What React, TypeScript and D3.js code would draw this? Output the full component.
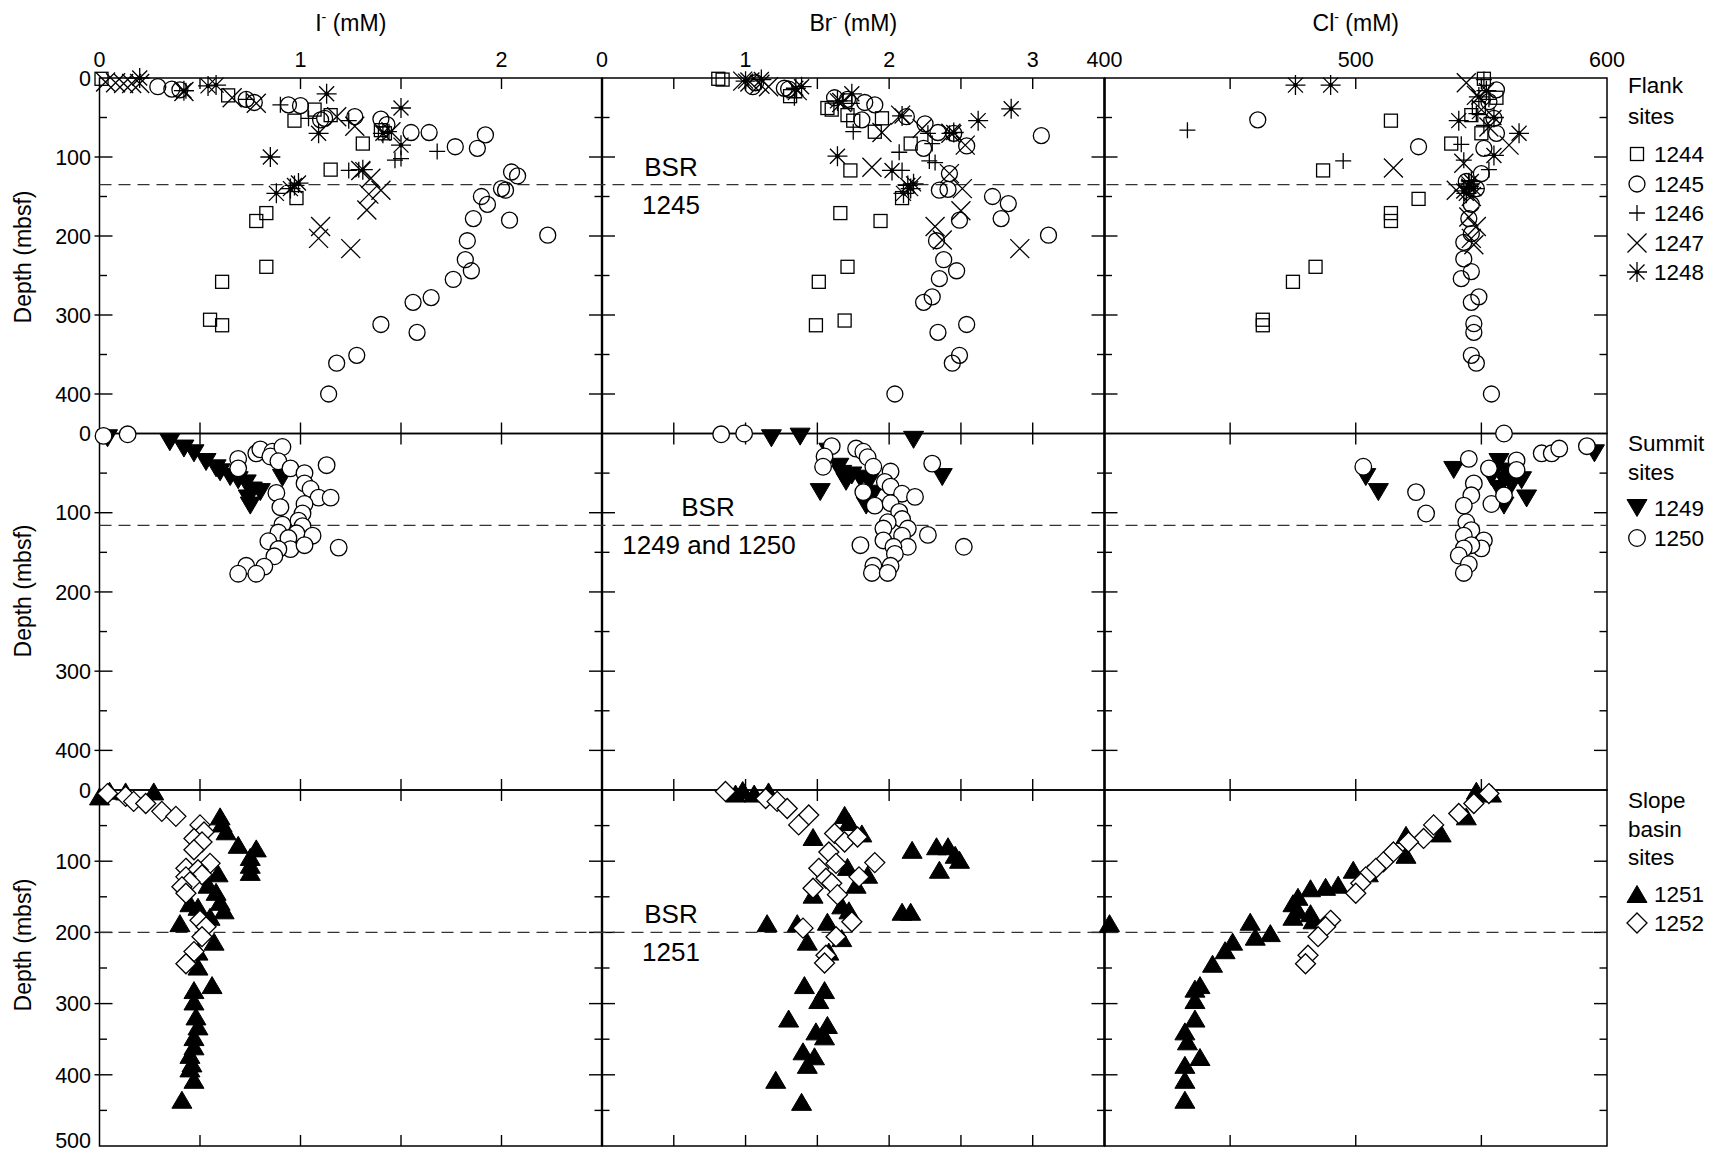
import React from "react";
import * as d3 from "d3";

type Pt = [number, number];

// ---- Flank sites (row 1): [value, depth mbsf] ----
const i1244: Pt[] = [[0.01,1],[0.64,22],[1.07,40],[0.97,54],[1.15,47],[1.40,66],[1.42,70],[1.31,83],[1.15,116],[0.98,152],[0.83,171],[0.78,181],[0.83,239],[0.61,258],[0.55,306],[0.61,313]];
const i1245: Pt[] = [[0.29,11],[0.36,14],[0.40,15],[0.73,27],[0.77,31],[0.94,34],[1.00,35],[1.10,53],[1.12,51],[1.27,49],[1.40,52],[1.43,59],[1.55,69],[1.64,69],[1.77,87],[1.88,89],[1.92,72],[2.05,119],[2.08,124],[2.00,140],[2.02,142],[1.90,150],[1.93,160],[1.86,178],[2.04,180],[2.23,199],[1.83,206],[1.82,230],[1.85,244],[1.76,255],[1.65,278],[1.56,284],[1.40,312],[1.58,322],[1.28,351],[1.18,361],[1.14,400]];
const i1246: Pt[] = [[0.43,16],[0.73,27],[0.90,34],[1.04,51],[1.24,54],[1.44,68],[1.68,93],[1.47,104],[1.50,102],[1.24,117],[1.29,116]];
const i1247: Pt[] = [[0.03,5],[0.08,6],[0.12,7],[0.16,7],[0.20,7],[0.42,17],[0.66,25],[0.78,32],[1.18,49],[1.27,61],[1.45,68],[1.30,117],[1.35,127],[1.40,142],[1.34,147],[1.33,167],[1.10,188],[1.09,203],[1.25,216]];
const i1248: Pt[] = [[0.20,0],[0.42,16],[0.54,10],[0.58,9],[1.13,20],[1.09,70],[1.50,38],[1.41,70],[1.50,85],[0.85,100],[0.88,146],[0.95,140],[0.97,136],[0.99,133],[1.31,116]];

const br1244: Pt[] = [[0.81,1],[0.84,2],[1.31,23],[1.57,38],[1.60,40],[1.71,47],[1.75,54],[1.90,68],[1.95,51],[2.15,83],[1.73,117],[2.09,152],[1.66,171],[1.94,181],[1.71,239],[1.51,258],[1.49,313],[1.69,307]];
const br1245: Pt[] = [[1.05,11],[1.07,6],[1.27,13],[1.30,14],[1.62,25],[1.71,27],[1.83,31],[1.90,34],[1.81,53],[2.12,49],[2.25,58],[2.34,69],[2.45,70],[2.54,86],[2.24,89],[3.06,73],[2.42,121],[2.41,141],[2.35,142],[2.72,150],[2.83,159],[2.78,178],[2.49,180],[3.11,199],[2.33,206],[2.38,230],[2.47,244],[2.35,254],[2.30,277],[2.24,284],[2.54,312],[2.34,322],[2.49,351],[2.44,361],[2.04,400]];
const br1246: Pt[] = [[1.34,25],[1.68,29],[1.74,32],[1.75,68],[2.07,94],[2.28,105],[2.32,107],[2.09,117],[2.27,70],[2.30,83],[2.42,70]];
const br1247: Pt[] = [[0.98,4],[1.03,5],[1.10,8],[1.16,11],[1.36,16],[1.67,31],[1.95,69],[2.08,47],[2.23,64],[2.43,70],[2.53,85],[1.88,113],[2.42,121],[2.51,140],[2.50,168],[2.32,188],[2.37,205],[2.91,216]];
const br1248: Pt[] = [[1.00,4],[1.11,2],[1.35,13],[1.39,11],[1.74,20],[1.64,29],[2.09,48],[2.45,69],[2.62,54],[2.85,39],[1.64,99],[2.02,117],[2.13,136],[2.17,134],[2.15,140],[2.10,146]];

const cl1244: Pt[] = [[551,1],[556,25],[549,38],[546,47],[550,70],[514,54],[538,83],[487,117],[525,153],[514,171],[514,181],[484,239],[475,258],[463,306],[463,313]];
const cl1245: Pt[] = [[556,15],[553,30],[555,51],[461,53],[556,70],[525,87],[551,89],[550,121],[544,131],[548,140],[546,160],[545,178],[546,197],[543,208],[543,229],[546,245],[542,254],[549,277],[546,284],[547,311],[547,322],[546,351],[548,361],[554,400]];
const cl1246: Pt[] = [[551,2],[553,27],[548,45],[551,60],[433,66],[542,84],[543,104],[495,105],[553,116],[545,130]];
const cl1247: Pt[] = [[544,6],[548,22],[550,40],[553,62],[561,85],[543,108],[515,114],[540,142],[546,150],[545,176],[548,188],[546,203],[547,211]];
const cl1248: Pt[] = [[476,9],[490,9],[552,16],[549,24],[555,50],[541,54],[565,70],[555,98],[546,131],[545,134],[547,140],[543,143],[544,146],[545,137]];

// ---- Summit sites (row 2) ----
const i1249: Pt[] = [[0.04,6],[0.35,11],[0.42,19],[0.47,25],[0.53,36],[0.58,44],[0.60,49],[0.65,55],[0.69,59],[0.73,63],[0.76,72],[0.80,74],[0.74,82],[0.75,91],[0.91,56]];
const i1250: Pt[] = [[0.02,3],[0.14,1],[0.69,32],[0.69,44],[0.78,25],[0.80,20],[0.86,23],[0.85,29],[0.91,17],[0.89,35],[0.95,44],[1.02,50],[1.02,63],[1.05,70],[1.09,81],[1.15,81],[1.13,40],[0.88,75],[0.90,93],[1.02,89],[1.01,101],[0.91,115],[0.99,110],[1.01,117],[0.98,126],[1.06,129],[0.89,125],[0.94,132],[0.84,136],[0.95,146],[0.89,146],[1.02,141],[0.87,155],[1.19,144],[0.73,167],[0.82,168],[0.69,177],[0.78,177]];
const br1249: Pt[] = [[1.18,6],[1.38,4],[2.17,8],[1.58,23],[1.65,42],[1.67,51],[1.74,53],[1.80,57],[1.86,61],[1.70,61],[1.52,74],[1.89,76],[1.84,91],[2.37,55]];
const br1250: Pt[] = [[0.83,1],[0.99,0],[1.60,16],[1.55,29],[1.54,42],[1.77,19],[1.82,23],[1.85,30],[1.89,42],[2.01,48],[1.97,61],[2.01,67],[1.82,74],[2.09,76],[2.18,80],[2.30,38],[1.90,91],[2.01,88],[2.07,99],[2.09,108],[1.99,112],[2.13,120],[1.96,120],[2.09,129],[2.27,128],[1.96,135],[2.13,143],[2.03,143],[2.04,152],[2.52,143],[1.80,141],[1.89,167],[2.01,167],[1.88,176],[1.99,176]];
const cl1249: Pt[] = [[504,55],[509,74],[539,46],[557,36],[554,55],[559,59],[566,59],[559,91],[568,82],[562,65],[595,25],[560,48],[557,70]];
const cl1250: Pt[] = [[559,0],[503,42],[524,74],[528,101],[545,32],[553,44],[564,34],[564,46],[574,25],[578,25],[581,19],[592,16],[547,63],[546,78],[543,91],[554,89],[559,78],[544,112],[546,122],[543,129],[551,135],[550,145],[546,141],[543,145],[541,154],[545,165],[543,176]];

// ---- Slope basin sites (row 3) ----
const i1251: Pt[] = [[0.00,9],[0.05,1],[0.13,2],[0.27,2],[0.60,37],[0.61,47],[0.63,58],[0.69,77],[0.78,82],[0.75,94],[0.75,105],[0.75,115],[0.59,117],[0.54,133],[0.58,143],[0.60,157],[0.62,169],[0.45,159],[0.49,164],[0.40,187],[0.55,178],[0.57,213],[0.49,227],[0.49,248],[0.56,274],[0.47,281],[0.47,297],[0.48,318],[0.49,332],[0.47,347],[0.47,360],[0.45,372],[0.46,384],[0.45,391],[0.47,407],[0.41,435]];
const i1252: Pt[] = [[0.04,5],[0.13,9],[0.17,16],[0.23,19],[0.31,30],[0.38,37],[0.50,49],[0.52,59],[0.47,68],[0.51,73],[0.47,84],[0.55,103],[0.43,110],[0.49,112],[0.51,119],[0.43,122],[0.45,129],[0.41,136],[0.43,145],[0.50,183],[0.53,192],[0.51,206],[0.47,227],[0.43,244]];
const br1251: Pt[] = [[0.93,5],[0.98,0],[1.06,5],[1.16,2],[1.69,35],[1.72,45],[1.81,61],[1.47,66],[2.16,84],[2.33,79],[2.41,79],[2.46,91],[2.49,98],[2.35,112],[1.71,108],[1.85,119],[1.77,133],[1.47,147],[1.67,162],[1.72,169],[2.09,171],[2.15,171],[1.15,187],[1.36,187],[1.57,185],[1.43,213],[1.67,208],[1.58,227],[1.41,274],[1.55,281],[1.51,295],[1.30,321],[1.57,330],[1.49,339],[1.55,346],[1.40,367],[1.48,374],[1.43,386],[1.21,407],[1.39,438]];
const br1252: Pt[] = [[0.86,2],[1.14,12],[1.22,16],[1.29,26],[1.44,35],[1.37,49],[1.62,61],[1.69,73],[1.78,66],[1.58,87],[1.63,103],[1.90,102],[1.51,110],[1.56,124],[1.60,131],[1.47,138],[1.64,147],[1.79,122],[1.74,185],[1.40,194],[1.63,206],[1.56,232],[1.55,243]];
const cl1251: Pt[] = [[548,1],[554,5],[544,37],[534,61],[520,63],[520,91],[499,112],[505,117],[493,133],[488,136],[482,138],[477,150],[475,159],[477,169],[482,173],[475,178],[483,183],[402,187],[458,185],[466,201],[460,206],[451,213],[448,225],[443,244],[436,279],[438,274],[436,295],[436,321],[432,339],[433,353],[438,375],[432,386],[432,407],[432,435]];
const cl1252: Pt[] = [[553,5],[547,19],[541,33],[531,49],[527,68],[521,73],[515,87],[511,101],[508,110],[504,122],[502,131],[500,145],[490,183],[488,192],[485,206],[481,232],[480,244]];

// axes
const ionNames = ["I", "Br", "Cl"];
const ionDomains: [number, number][] = [[0, 2.5], [0, 3.5], [400, 600]];
const ionTickLabels = [[0, 1, 2], [0, 1, 2, 3], [400, 500, 600]];
const ionTickStep = [0.5, 0.5, 50];
const depthDomains: [number, number][] = [[0, 450], [0, 450], [0, 500]];
const depthLabels = [[0, 100, 200, 300, 400], [0, 100, 200, 300, 400], [0, 100, 200, 300, 400, 500]];
const bsrDepth = [135, 116, 200];
const bsrText = [["BSR", "1245"], ["BSR", "1249 and 1250"], ["BSR", "1251"]];
const groupTitles = [["Flank", "sites"], ["Summit", "sites"], ["Slope", "basin", "sites"]];

type Shape = "square" | "circle" | "circleW" | "plus" | "cross" | "star" | "tdown" | "tup" | "diamond";
type Site = { name: string; shape: Shape; data: Pt[][] };

const rows: Site[][] = [
  [
    { name: "1244", shape: "square", data: [i1244, br1244, cl1244] },
    { name: "1245", shape: "circle", data: [i1245, br1245, cl1245] },
    { name: "1246", shape: "plus", data: [i1246, br1246, cl1246] },
    { name: "1247", shape: "cross", data: [i1247, br1247, cl1247] },
    { name: "1248", shape: "star", data: [i1248, br1248, cl1248] },
  ],
  [
    { name: "1249", shape: "tdown", data: [i1249, br1249, cl1249] },
    { name: "1250", shape: "circleW", data: [i1250, br1250, cl1250] },
  ],
  [
    { name: "1251", shape: "tup", data: [i1251, br1251, cl1251] },
    { name: "1252", shape: "diamond", data: [i1252, br1252, cl1252] },
  ],
];

const FONT = "'Liberation Sans', Arial, Helvetica, sans-serif";
const colX = [99.5, 602, 1104.5];
const panelW = 502.5;
const rowY = [78, 433.5, 790];
const rowH = [355.5, 356.5, 356];
const depthTitleY = [257, 591, 945];
const legendY = [[85, 116, 154, 184, 213, 243, 272], [443, 472, 508, 538], [800, 829, 857, 894, 923]];

const SW = 1.3;

function Marker({ shape, x, y }: { shape: Shape; x: number; y: number }) {
  switch (shape) {
    case "square":
      return <rect x={x - 6.5} y={y - 6.5} width={13} height={13} fill="none" stroke="#000" strokeWidth={SW} />;
    case "circle":
      return <circle cx={x} cy={y} r={8} fill="none" stroke="#000" strokeWidth={SW} />;
    case "circleW":
      return <circle cx={x} cy={y} r={8.3} fill="#fff" stroke="#000" strokeWidth={SW} />;
    case "plus":
      return <path d={`M${x - 8},${y}H${x + 8}M${x},${y - 8}V${y + 8}`} stroke="#000" strokeWidth={SW} />;
    case "cross":
      return <path d={`M${x - 9.5},${y - 9.5}L${x + 9.5},${y + 9.5}M${x - 9.5},${y + 9.5}L${x + 9.5},${y - 9.5}`} stroke="#000" strokeWidth={SW} />;
    case "star": {
      const r = 10, q = 7.5;
      return (
        <g stroke="#000" strokeWidth={SW}>
          <path d={`M${x - r},${y}H${x + r}M${x},${y - r}V${y + r}M${x - q},${y - q}L${x + q},${y + q}M${x - q},${y + q}L${x + q},${y - q}`} />
          <circle cx={x} cy={y} r={1.6} fill="#000" />
        </g>
      );
    }
    case "tdown":
      return <path d={`M${x - 10},${y - 8.5}L${x + 10},${y - 8.5}L${x},${y + 8.5}Z`} fill="#000" stroke="#000" strokeWidth={1} />;
    case "tup":
      return <path d={`M${x - 10},${y + 8.5}L${x + 10},${y + 8.5}L${x},${y - 8.5}Z`} fill="#000" stroke="#000" strokeWidth={1} />;
    case "diamond":
      return <path d={`M${x},${y - 10}L${x + 10},${y}L${x},${y + 10}L${x - 10},${y}Z`} fill="#fff" stroke="#000" strokeWidth={SW} />;
  }
}

const App = () => {
  const xScales = ionDomains.map((dom, c) => d3.scaleLinear().domain(dom).range([colX[c], colX[c] + panelW]));
  const yScales = depthDomains.map((dom, r) => d3.scaleLinear().domain(dom).range([rowY[r], rowY[r] + rowH[r]]));
  const right = colX[2] + panelW;

  return (
    <svg width={1714} height={1154} style={{ position: "absolute", left: 0, top: 0, background: "#fff" }} fontFamily={FONT}>
      {/* column titles and top tick labels */}
      {ionNames.map((n, c) => (
        <text key={n} x={colX[c] + panelW / 2} y={31} textAnchor="middle" fontSize={23}>
          {n}
          <tspan fontSize={14} dy={-9}>-</tspan>
          <tspan dy={9}> (mM)</tspan>
        </text>
      ))}
      {ionTickLabels.map((labels, c) =>
        labels.map((v) => (
          <text key={`tl${c}-${v}`} x={xScales[c](v)} y={67} textAnchor="middle" fontSize={21.5}>
            {v}
          </text>
        ))
      )}

      {rows.map((sites, r) => {
        const y = yScales[r];
        const top = rowY[r];
        const bot = rowY[r] + rowH[r];
        const depthTicks = d3.range(50, depthDomains[r][1], 50);
        return (
          <g key={`row${r}`}>
            {/* panels */}
            {ionDomains.map((dom, c) => {
              const x = xScales[c];
              const left = colX[c];
              const xt = d3.range(dom[0] + ionTickStep[c], dom[1] - 1e-9, ionTickStep[c]);
              return (
                <g key={`p${r}-${c}`} stroke="#000">
                  <rect x={left} y={top} width={panelW} height={rowH[r]} fill="none" strokeWidth={1.5} />
                  {xt.map((v) => (
                    <g key={v} strokeWidth={1.4}>
                      <line x1={x(v)} x2={x(v)} y1={top} y2={top + 11} />
                      <line x1={x(v)} x2={x(v)} y1={bot} y2={bot - 11} />
                    </g>
                  ))}
                  {depthTicks.map((d) => {
                    const len = d % 100 === 0 ? 13 : 7.5;
                    return (
                      <g key={d} strokeWidth={1.4}>
                        <line x1={left - (c === 0 && d % 100 === 0 ? 5 : 0)} x2={left + len} y1={y(d)} y2={y(d)} />
                        <line x1={left + panelW} x2={left + panelW - len} y1={y(d)} y2={y(d)} />
                      </g>
                    );
                  })}
                </g>
              );
            })}
            {[colX[1], colX[2]].map((cx) => (
              <line key={cx} x1={cx} x2={cx} y1={top} y2={bot} stroke="#000" strokeWidth={2.4} />
            ))}

            {/* depth labels */}
            {depthLabels[r].map((d) => (
              <text key={`dl${d}`} x={91} y={Math.min(y(d), 1140)} dy="0.36em" textAnchor="end" fontSize={21.5}>
                {d}
              </text>
            ))}
            <text transform={`translate(31,${depthTitleY[r]}) rotate(-90)`} textAnchor="middle" fontSize={23}>
              Depth (mbsf)
            </text>

            {/* BSR */}
            <line x1={colX[0]} x2={right} y1={y(bsrDepth[r])} y2={y(bsrDepth[r])} stroke="#333" strokeWidth={1.4} strokeDasharray="12 7" />
            <text x={r === 1 ? 708 : 671} y={y(bsrDepth[r]) - 9} textAnchor="middle" fontSize={26}>
              {bsrText[r][0]}
            </text>
            <text x={r === 1 ? 709 : 671} y={y(bsrDepth[r]) + 29} textAnchor="middle" fontSize={26}>
              {bsrText[r][1]}
            </text>

            {/* data */}
            {sites.map((s) =>
              s.data.map((pts, c) => (
                <g key={`${s.name}-${c}`}>
                  {pts.map((p, i) => (
                    <Marker key={i} shape={s.shape} x={xScales[c](p[0])} y={y(p[1])} />
                  ))}
                </g>
              ))
            )}

            {/* legend */}
            {groupTitles[r].map((t, k) => (
              <text key={t + k} x={1628} y={legendY[r][k] + 8} fontSize={22.5}>
                {t}
              </text>
            ))}
            {sites.map((s, k) => {
              const ly = legendY[r][groupTitles[r].length + k];
              return (
                <g key={`lg${s.name}`}>
                  <Marker shape={s.shape} x={1637} y={ly} />
                  <text x={1654} y={ly + 8} fontSize={22.5}>
                    {s.name}
                  </text>
                </g>
              );
            })}
          </g>
        );
      })}
    </svg>
  );
};

export default App;
